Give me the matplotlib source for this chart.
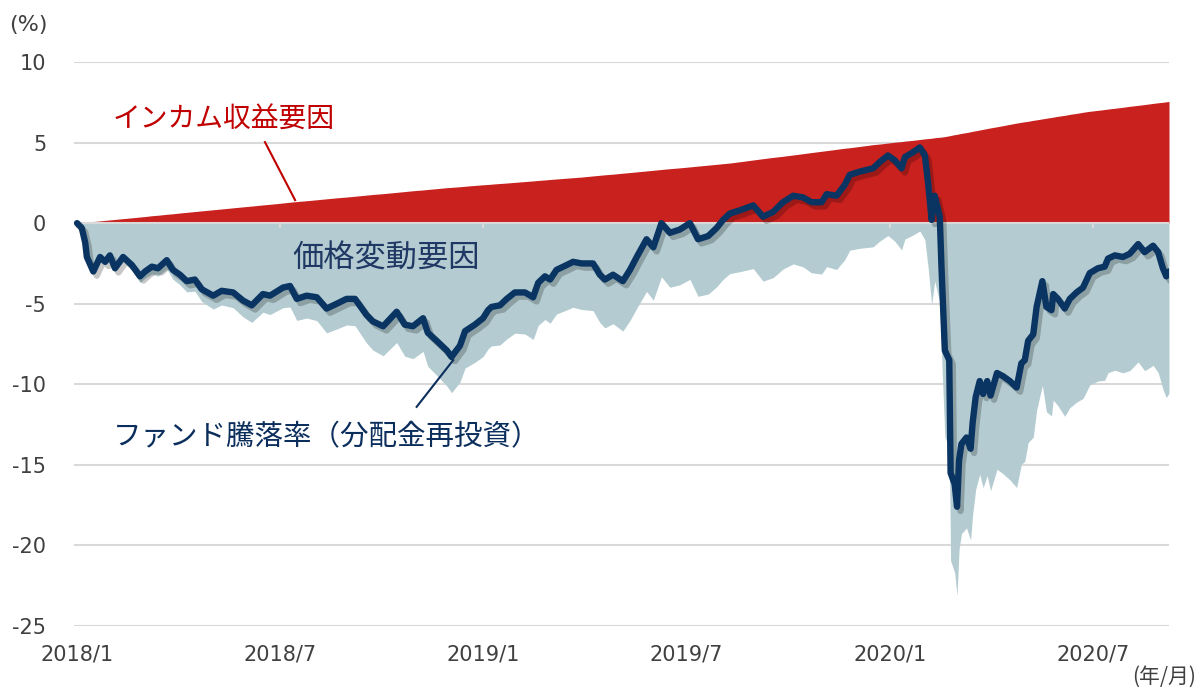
import numpy as np
import matplotlib
matplotlib.use("Agg")
import matplotlib.pyplot as plt
import matplotlib.patheffects as pe

# months since 2018/1 for each observation
months = [0.00, 0.14, 0.24, 0.29, 0.48, 0.68, 0.83, 0.97, 1.12, 1.36, 1.62, 1.86, 2.01, 2.21, 2.39,
          2.65, 2.83, 3.04, 3.24, 3.48, 3.68, 4.02, 4.27, 4.61, 4.90, 5.16, 5.49, 5.70, 6.08, 6.29,
          6.49, 6.78, 7.08, 7.37, 7.67, 7.96, 8.21, 8.55, 8.74, 9.04, 9.44, 9.68, 9.92, 10.22, 10.36,
          10.62, 10.92, 11.06, 11.31, 11.46, 11.75, 11.99, 12.14, 12.24, 12.49, 12.69, 12.93, 13.23, 13.47, 13.62,
          13.82, 13.97, 14.16, 14.46, 14.65, 14.90, 15.24, 15.44, 15.59, 15.83, 16.12, 16.33, 16.53, 16.82, 17.02,
          17.26, 17.51, 17.80, 18.10, 18.34, 18.64, 18.89, 19.08, 19.28, 19.58, 19.97, 20.26, 20.56, 20.85, 21.15,
          21.44, 21.69, 21.99, 22.14, 22.43, 22.68, 22.82, 23.12, 23.51, 23.71, 23.95, 24.15, 24.35, 24.45, 24.69,
          24.89, 25.04, 25.14, 25.24, 25.33, 25.48, 25.53, 25.63, 25.76, 25.78, 25.80, 25.92, 25.99, 26.05, 26.12,
          26.27, 26.39, 26.45, 26.54, 26.66, 26.76, 26.88, 26.98, 27.17, 27.35, 27.55, 27.75, 27.89, 27.99, 28.09,
          28.24, 28.34, 28.51, 28.63, 28.78, 28.83, 28.97, 29.17, 29.32, 29.52, 29.71, 29.91, 30.15, 30.35, 30.45,
          30.65, 30.89, 31.09, 31.34, 31.53, 31.78, 31.93, 32.07, 32.17, 32.25]

# ファンド騰落率（分配金再投資）, %
fund = [0.0, -0.3, -1.2, -2.1, -3.0, -2.1, -2.4, -2.0, -2.8, -2.1, -2.6, -3.3, -3.0, -2.7, -2.8,
        -2.3, -2.9, -3.2, -3.6, -3.5, -4.1, -4.5, -4.2, -4.3, -4.8, -5.1, -4.4, -4.5, -4.0, -3.9,
        -4.7, -4.5, -4.6, -5.3, -5.0, -4.7, -4.7, -5.7, -6.1, -6.4, -5.5, -6.3, -6.4, -5.9, -6.8,
        -7.3, -7.9, -8.3, -7.6, -6.7, -6.3, -5.9, -5.4, -5.2, -5.1, -4.7, -4.3, -4.3, -4.6, -3.7,
        -3.3, -3.5, -2.9, -2.6, -2.4, -2.5, -2.5, -3.2, -3.5, -3.2, -3.6, -2.9, -2.1, -1.0, -1.5,
        0.0, -0.6, -0.4, 0.0, -1.0, -0.8, -0.3, 0.2, 0.6, 0.8, 1.1, 0.4, 0.7, 1.3, 1.7,
        1.6, 1.3, 1.3, 1.8, 1.7, 2.4, 3.0, 3.2, 3.4, 3.8, 4.2, 3.9, 3.4, 4.1, 4.4,
        4.7, 4.2, 2.4, 0.2, 1.7, 0.4, -2.7, -7.9, -8.5, -11.8, -15.5, -16.2, -17.6, -14.7, -13.7,
        -13.3, -14.0, -12.4, -10.8, -9.8, -10.6, -9.8, -10.7, -9.3, -9.5, -9.8, -10.2, -8.7, -8.5, -7.3,
        -6.9, -5.2, -3.6, -5.2, -5.4, -4.4, -4.7, -5.3, -4.7, -4.3, -4.0, -3.1, -2.8, -2.7, -2.2,
        -2.0, -2.1, -1.9, -1.3, -1.8, -1.4, -1.8, -2.8, -3.3, -3.0]

# インカム収益要因, %
income = [0.00, 0.03, 0.05, 0.06, 0.10, 0.14, 0.17, 0.20, 0.23, 0.28, 0.33, 0.38, 0.41, 0.46, 0.49,
          0.55, 0.58, 0.63, 0.67, 0.72, 0.76, 0.83, 0.88, 0.95, 1.01, 1.06, 1.13, 1.17, 1.25, 1.30,
          1.34, 1.39, 1.45, 1.51, 1.57, 1.62, 1.67, 1.74, 1.78, 1.83, 1.91, 1.96, 2.01, 2.06, 2.09,
          2.14, 2.20, 2.22, 2.26, 2.29, 2.34, 2.38, 2.40, 2.42, 2.46, 2.49, 2.53, 2.58, 2.62, 2.65,
          2.68, 2.71, 2.74, 2.79, 2.82, 2.86, 2.93, 2.97, 3.00, 3.04, 3.10, 3.14, 3.18, 3.24, 3.28,
          3.33, 3.38, 3.43, 3.49, 3.54, 3.60, 3.65, 3.69, 3.73, 3.81, 3.92, 4.00, 4.08, 4.15, 4.23,
          4.31, 4.38, 4.46, 4.50, 4.58, 4.65, 4.68, 4.76, 4.87, 4.91, 4.97, 5.02, 5.06, 5.09, 5.14,
          5.19, 5.23, 5.25, 5.27, 5.30, 5.33, 5.34, 5.37, 5.42, 5.43, 5.44, 5.49, 5.51, 5.54, 5.57,
          5.62, 5.67, 5.70, 5.73, 5.78, 5.82, 5.87, 5.91, 5.98, 6.05, 6.13, 6.21, 6.26, 6.29, 6.32,
          6.38, 6.41, 6.47, 6.51, 6.56, 6.58, 6.63, 6.69, 6.75, 6.81, 6.88, 6.94, 7.00, 7.05, 7.08,
          7.13, 7.19, 7.25, 7.31, 7.36, 7.43, 7.47, 7.50, 7.53, 7.55]

tick_months = [0, 6, 12, 18, 24, 30]
tick_labels = ["2018/1", "2018/7", "2019/1", "2019/7", "2020/1", "2020/7"]
y_ticks = [10, 5, 0, -5, -10, -15, -20, -25]

x = np.array(months)
fund = np.array(fund)
income = np.array(income)
price = fund - income  # 価格変動要因

RED = "#C9211E"
GREY = "#B4CCD1"
NAVY = "#0A3562"
GRID = "#D9D9D9"
JP = ["Noto Sans CJK JP", "DejaVu Sans"]

fig = plt.figure(figsize=(11.98, 6.89), dpi=100)
ax = fig.add_axes([74 / 1198, 1 - 626 / 689, (1169 - 74) / 1198, (626 - 62) / 689])

ax.fill_between(x, 0, income, color=RED, lw=0, zorder=2)
ax.fill_between(x, price, 0, color=GREY, lw=0, zorder=2)
ax.axhline(0, color=GRID, lw=1.5, zorder=2.5)
ax.vlines(tick_months, -0.3, 0, color=GRID, lw=1.5, zorder=2.5)

ax.plot(x, fund, color=NAVY, lw=4.6, solid_joinstyle="round", solid_capstyle="round", zorder=4,
        path_effects=[pe.SimpleLineShadow(offset=(2.5, -3), shadow_color="k", alpha=0.22),
                      pe.Normal()])

ax.set_xlim(-0.09, 32.25)
ax.set_ylim(-25, 10)
ax.set_yticks(y_ticks)
ax.set_yticklabels([str(v) for v in y_ticks])
ax.set_xticks(tick_months)
ax.set_xticklabels(tick_labels)
ax.yaxis.grid(True, color=GRID, lw=1.5, zorder=0)
ax.set_axisbelow(True)
for s in ax.spines.values():
    s.set_visible(False)
ax.tick_params(axis="y", length=0, pad=20, labelsize=15, labelcolor="#404040")
ax.tick_params(axis="x", length=0, pad=13, labelsize=15, labelcolor="#404040")

# labels and leader lines
ax.text(1.06, 6.4, "インカム収益要因", family=JP, fontsize=20, color="#C00000", va="center")
ax.plot([5.55, 6.44], [5.03, 1.43], color="#C00000", lw=1.5, zorder=5)
ax.text(6.35, -2.17, "価格変動要因", family=JP, fontsize=22.5, color="#1F3864", va="center")
ax.text(1.06, -13.3, "ファンド騰落率（分配金再投資）", family=JP, fontsize=20.5, color="#0B2E5C", va="center")
ax.plot([11.11, 10.03], [-8.5, -11.4], color="#0B2E5C", lw=1.5, zorder=5)

fig.text(9 / 1198, 1 - 25 / 689, "(%)", fontsize=16, color="#404040", va="center")
fig.text(1196 / 1198, 1 - 677 / 689, "(年/月)", fontsize=15, color="#404040", va="center", ha="right", family=JP)

fig.savefig("out.png", dpi=100)
